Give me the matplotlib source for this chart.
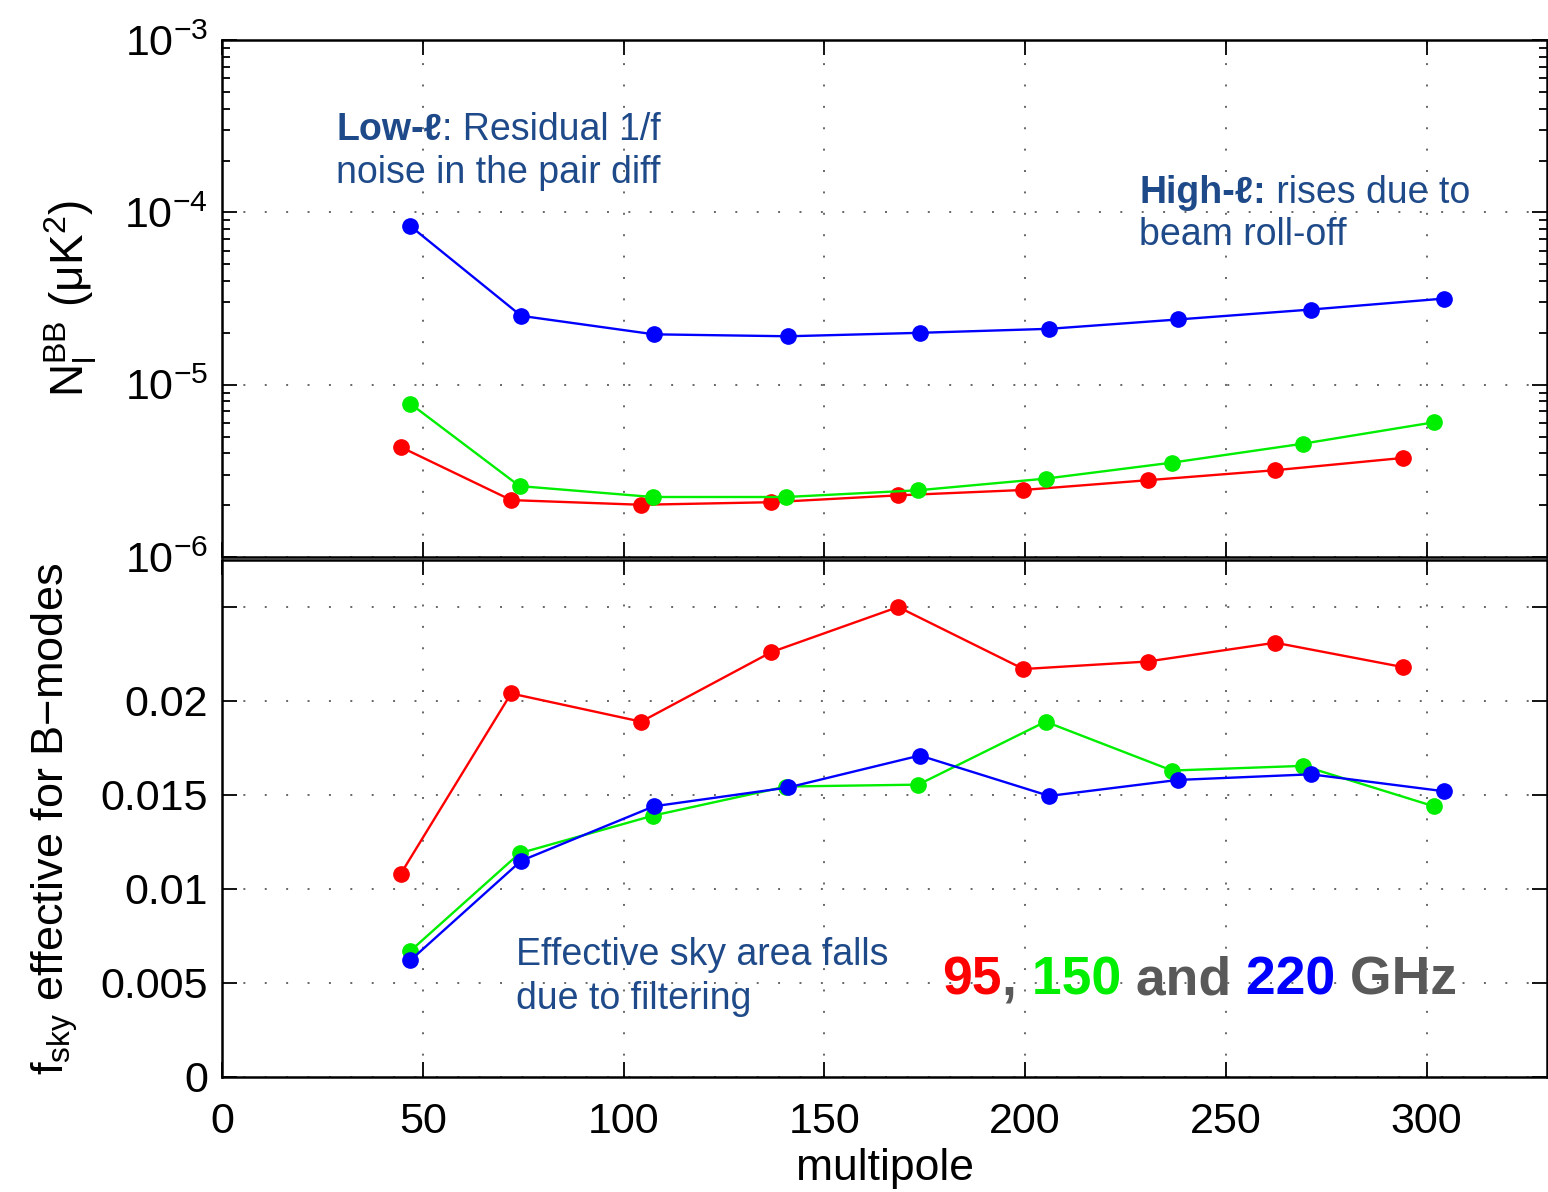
import numpy as np
import matplotlib
matplotlib.use("Agg")
import matplotlib.pyplot as plt

plt.rcParams['font.family'] = ['Liberation Sans', 'DejaVu Sans']
plt.rcParams['mathtext.fontset'] = 'custom'
plt.rcParams['mathtext.rm'] = 'Liberation Sans'
plt.rcParams['mathtext.it'] = 'Liberation Sans:italic'
plt.rcParams['mathtext.bf'] = 'Liberation Sans:bold'

# multipole centres for each band
ell_95 = [44.5, 72.0, 104.4, 136.8, 168.4, 199.6, 230.5, 262.3, 294.2]
ell_150 = [46.9, 74.1, 107.3, 140.5, 173.4, 205.1, 236.6, 269.3, 301.8]
ell_220 = [46.9, 74.5, 107.6, 141.0, 173.8, 206.0, 238.0, 271.2, 304.3]

# noise N_l^BB (uK^2)
nl_95 = [4.35e-6, 2.14e-6, 2.01e-6, 2.08e-6, 2.28e-6, 2.45e-6, 2.79e-6, 3.19e-6, 3.76e-6]
nl_150 = [7.76e-6, 2.58e-6, 2.23e-6, 2.23e-6, 2.44e-6, 2.85e-6, 3.53e-6, 4.55e-6, 6.05e-6]
nl_220 = [8.33e-5, 2.51e-5, 1.96e-5, 1.91e-5, 2.00e-5, 2.11e-5, 2.39e-5, 2.73e-5, 3.16e-5]

# effective fsky for B-modes
fsky_95 = [0.0108, 0.0204, 0.0189, 0.0226, 0.0250, 0.0217, 0.0221, 0.0231, 0.0218]
fsky_150 = [0.0067, 0.0119, 0.0139, 0.01545, 0.01555, 0.0189, 0.0163, 0.01655, 0.0144]
fsky_220 = [0.0062, 0.0115, 0.0144, 0.0154, 0.0171, 0.01495, 0.0158, 0.0161, 0.0152]

xticks = [0, 50, 100, 150, 200, 250, 300]
fsky_ticks = [0, 0.005, 0.01, 0.015, 0.02, 0.025]
fsky_ticklabels = ['0', '0.005', '0.01', '0.015', '0.02', '']

colors = ['#ff0000', '#00ee00', '#0000ff']
note_color = '#1f4a8a'

fig = plt.figure(figsize=(15.48, 11.92), dpi=100)
ax1 = fig.add_axes([0.1434, 0.5327, 0.856, 0.4337])
ax2 = fig.add_axes([0.1434, 0.0965, 0.856, 0.4337])

for x, y, c in zip([ell_95, ell_150, ell_220], [nl_95, nl_150, nl_220], colors):
    ax1.plot(x, y, '-o', color=c, lw=1.7, ms=11)
for x, y, c in zip([ell_95, ell_150, ell_220], [fsky_95, fsky_150, fsky_220], colors):
    ax2.plot(x, y, '-o', color=c, lw=1.7, ms=11)

ax1.set_yscale('log')
ax1.set_ylim(1e-6, 1e-3)
ax2.set_ylim(0, 0.0275)
ax2.set_yticks(fsky_ticks)
ax2.set_yticklabels(fsky_ticklabels)

for ax in (ax1, ax2):
    ax.set_xlim(0, 330)
    ax.set_xticks(xticks)
    ax.grid(True, which='major', linestyle=(0, (1, 10)), color='#666666', linewidth=1.4)
    ax.tick_params(which='both', direction='in', top=True, right=True, labelsize=31, width=1.3)
    ax.tick_params(which='major', length=11, pad=10)
    ax.tick_params(which='minor', length=6)
    for s in ax.spines.values():
        s.set_linewidth(1.8)

ax1.tick_params(labelbottom=False)
ax2.tick_params(axis='x', pad=18)
ax2.set_xlabel('multipole', fontsize=32, labelpad=4)

ax1.set_ylabel(r'$\mathregular{N_l^{BB}}$ (μK$^{2}$)', fontsize=33)
ax1.yaxis.set_label_coords(-0.093, 0.5)
ax2.set_ylabel(r'$\mathregular{f_{sky}}$ effective for B−modes', fontsize=32.5)
ax2.yaxis.set_label_coords(-0.107, 0.5)

# annotations, top panel
t = ax1.text(28.4, 0.807, 'Low-ℓ', transform=ax1.get_xaxis_transform(),
             fontsize=27, fontweight='bold', color=note_color, va='baseline')
ax1.annotate(': Residual 1/f', xycoords=t, xy=(1, 0), va='bottom',
             fontsize=27, color=note_color)
ax1.text(28.4, 0.723, 'noise in the pair diff', transform=ax1.get_xaxis_transform(),
         fontsize=27, color=note_color, va='baseline')

t = ax1.text(228.4, 0.685, 'High-ℓ:', transform=ax1.get_xaxis_transform(),
             fontsize=27, fontweight='bold', color=note_color, va='baseline')
ax1.annotate(' rises due to', xycoords=t, xy=(1, 0), va='bottom',
             fontsize=27, color=note_color)
ax1.text(228.4, 0.603, 'beam roll-off', transform=ax1.get_xaxis_transform(),
         fontsize=27, color=note_color, va='baseline')

# annotations, bottom panel
ax2.text(73.1, 0.217, 'Effective sky area falls', transform=ax2.get_xaxis_transform(),
         fontsize=27, color=note_color, va='baseline')
ax2.text(73.1, 0.132, 'due to filtering', transform=ax2.get_xaxis_transform(),
         fontsize=27, color=note_color, va='baseline')

parts = [('95', '#ff0000'), (',', '#595959'), (' 150', '#00ee00'), (' and', '#595959'),
         (' 220', '#0000ff'), (' GHz', '#595959')]
t = ax2.text(179.4, 0.159, parts[0][0], transform=ax2.get_xaxis_transform(),
             fontsize=38.5, fontweight='bold', color=parts[0][1], va='baseline')
for s, c in parts[1:]:
    t = ax2.annotate(s, xycoords=t, xy=(1, 0), va='bottom',
                     fontsize=38.5, fontweight='bold', color=c)

fig.savefig('out.png', dpi=100)
